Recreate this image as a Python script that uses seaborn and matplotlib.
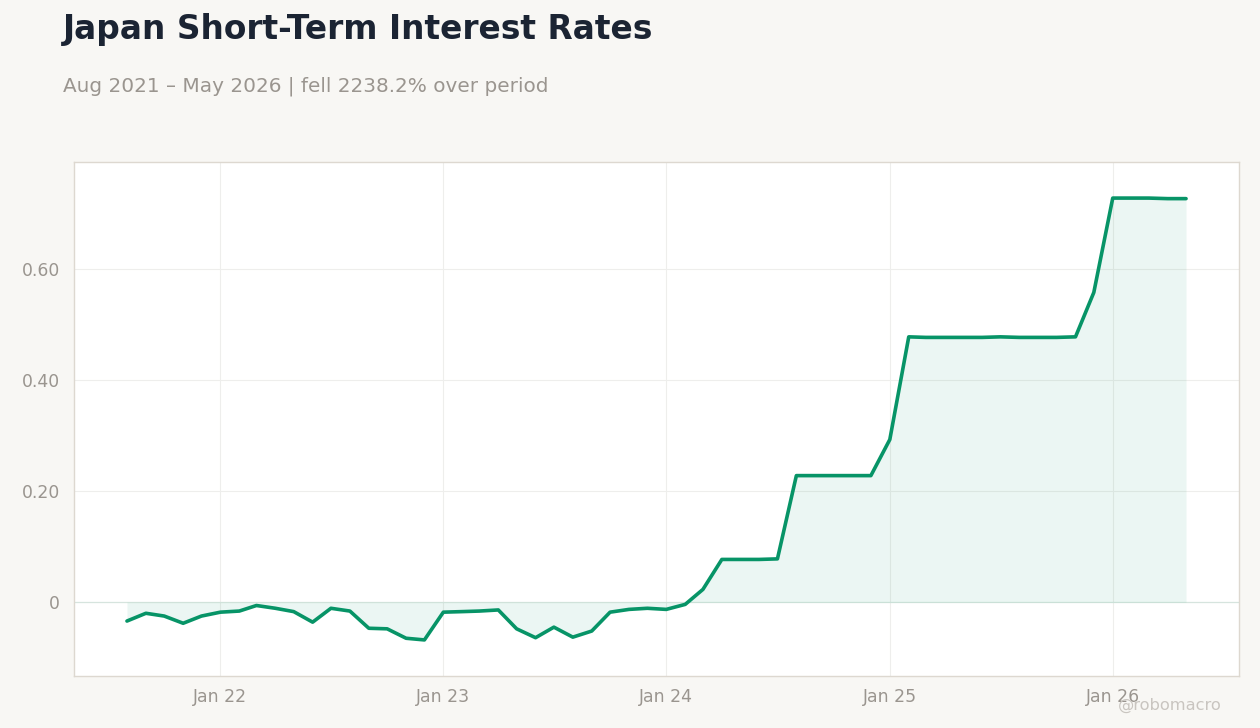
import numpy as np
import pandas as pd
import matplotlib
matplotlib.use('Agg')
import matplotlib.pyplot as plt
import matplotlib.dates as mdates
import seaborn as sns

# monthly short-term rate, Aug 2021 .. May 2026
start_month = '2021-08-01'
rates = [
    -0.034, -0.020, -0.025, -0.038, -0.025,
    -0.018, -0.016, -0.006, -0.011, -0.017, -0.036, -0.011, -0.016, -0.047, -0.048, -0.065, -0.068,
    -0.018, -0.017, -0.016, -0.014, -0.048, -0.064, -0.045, -0.063, -0.052, -0.018, -0.013, -0.011,
    -0.013, -0.004, 0.023, 0.077, 0.077, 0.077, 0.078, 0.228, 0.228, 0.228, 0.228, 0.228,
    0.293, 0.478, 0.477, 0.477, 0.477, 0.477, 0.478, 0.477, 0.477, 0.477, 0.478, 0.558,
    0.728, 0.728, 0.728, 0.727, 0.727,
]
y_ticks = [0, 0.2, 0.4, 0.6]
y_tick_labels = ['0', '0.20', '0.40', '0.60']

title = 'Japan Short-Term Interest Rates'
subtitle = 'Aug 2021 \u2013 May 2026 | fell 2238.2% over period'
credit = '@robomacro'

BG = '#f8f7f4'
LINE = '#079467'
GREY = '#9a958f'

df = pd.DataFrame({
    'date': pd.date_range(start_month, periods=len(rates), freq='MS'),
    'rate': rates,
})

sns.set_style('white')
plt.rcParams['font.family'] = ['DejaVu Sans']

fig = plt.figure(figsize=(12.6, 7.28), dpi=100, facecolor=BG)
ax = fig.add_axes([74 / 1260, 1 - 676 / 728, (1239 - 74) / 1260, (676 - 162) / 728])
ax.set_facecolor('white')

ax.fill_between(df['date'], 0, df['rate'], color=LINE, alpha=0.08, linewidth=0)
ax.axhline(0, color=LINE, alpha=0.1, linewidth=1)
sns.lineplot(data=df, x='date', y='rate', ax=ax, color=LINE, linewidth=2.6)

ax.set_ylim(-0.133, 0.793)
ax.set_yticks(y_ticks)
ax.set_yticklabels(y_tick_labels)
ax.margins(x=0.05)
ax.xaxis.set_major_locator(mdates.YearLocator())
ax.xaxis.set_major_formatter(mdates.DateFormatter('Jan %y'))

ax.grid(True, color='#eeeeec', linewidth=0.8)
ax.set_axisbelow(True)
ax.set_xlabel('')
ax.set_ylabel('')
for s in ax.spines.values():
    s.set_color('#ddd8d0')
    s.set_linewidth(1)
ax.tick_params(axis='x', colors='#8a8580', labelsize=12.4, length=4, width=0.8, pad=5, labelcolor=GREY)
ax.tick_params(axis='y', colors='#b5b0a9', labelsize=12.4, length=3, width=0.8, pad=7, labelcolor=GREY)

fig.text(63 / 1260, 1 - 30 / 728, title, fontsize=23.7, fontweight='bold', color='#1b2433', va='center')
fig.text(63 / 1260, 1 - 86 / 728, subtitle, fontsize=14.4, color=GREY, va='center')
fig.text(1222 / 1260, 1 - 705 / 728, credit, fontsize=11.7, color='#c9c5c0', ha='right', va='center')

fig.savefig('out.png', dpi=100, facecolor=BG)
